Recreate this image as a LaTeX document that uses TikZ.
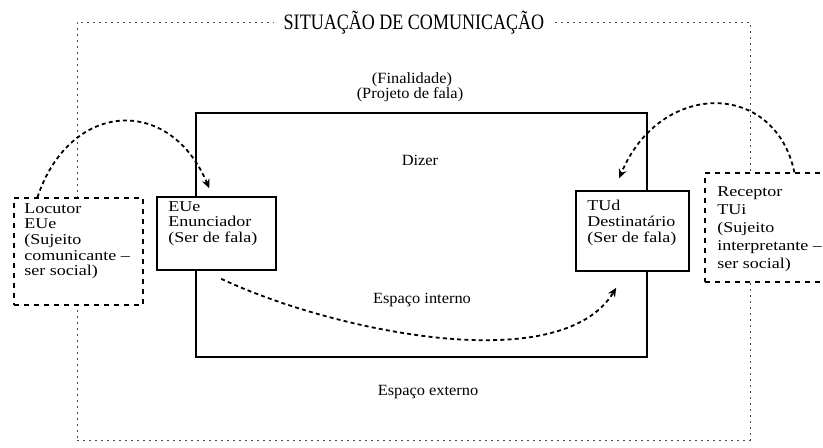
\documentclass[tikz,border=0pt]{standalone}
\usepackage{fontspec}
\setmainfont{Liberation Serif}[FakeStretch=1.2]
\newfontfamily\titlefont{Liberation Serif}[FakeStretch=0.82]
\newfontfamily\lblfont{Liberation Serif}[FakeStretch=1.05]
\usetikzlibrary{arrows.meta,calc,fit}
\tikzset{
  outerframe/.style={draw=black!70, line width=0.45pt, dash pattern=on 1.2pt off 1.8pt, inner sep=0pt},
  solidbox/.style={draw, line width=0.8pt, fill=white, inner sep=0pt},
  innerbox/.style={draw, line width=0.8pt, inner sep=0pt},
  dashbox/.style={draw, line width=0.6pt, dash pattern=on 2.5pt off 2.5pt, fill=white, inner sep=0pt},
  boxtxt/.style={font=\fontsize{7.5}{7.8}\selectfont, inner sep=0pt, align=left, anchor=north west},
  lbl/.style={font=\lblfont\fontsize{7.8}{8}\selectfont, inner sep=0pt},
  arcline/.style={line width=0.9pt, dash pattern=on 2pt off 1.6pt, -{Stealth[length=4.5pt,width=4pt]}},
}
\begin{document}
\begin{tikzpicture}[x=0.5pt,y=-0.5pt]
\useasboundingbox (0,0) rectangle (823,448);
% outer frame
\node[outerframe, fit={(77,22) (750,440)}] (outer) {};
\node[font=\titlefont\fontsize{11}{12}\selectfont, fill=white, inner xsep=5pt, inner ysep=1pt] (title) at (414,23) {SITUAÇÃO DE COMUNICAÇÃO};
\node[lbl] (fin) at (412,80) {(Finalidade)};
\node[lbl] (proj) at (410,95) {(Projeto de fala)};
% inner frame
\node[innerbox, fit={(196,113) (647,357)}] (inner) {};
\node[lbl] (dizer) at (420,160) {Dizer};
\node[lbl] (einterno) at (422,300) {Espaço interno};
\node[lbl] (eexterno) at (428,392) {Espaço externo};
% boxes
\node[solidbox, fit={(157,197) (276,270)}] (eue) {};
\node[boxtxt] (euetxt) at (168,201) {EUe\\Enunciador\\(Ser de fala)};
\node[solidbox, fit={(576,191) (689,271)}] (tud) {};
\node[boxtxt] (tudtxt) at (587,200) {TUd\\Destinatário\\(Ser de fala)};
\node[dashbox, fit={(14,198) (143,305)}] (loc) {};
\node[boxtxt] (loctxt) at (24,203) {Locutor\\EUe\\(Sujeito\\comunicante –\\ser social)};
\node[dashbox, fit={(705,173) (828,282)}] (rec) {};
\node[boxtxt, font=\fontsize{7.5}{9}\selectfont] (rectxt) at (717,186) {Receptor\\TUi\\(Sujeito\\interpretante –\\ser social)};
% arcs
\draw[arcline] ($(loc.north west)+(24,0)$) .. controls (70,100) and (170,95) .. ($(eue.north west)+(53,-8)$);
\draw[arcline] ($(rec.north west)+(90,0)$) .. controls (775,80) and (660,80) .. ($(tud.north west)+(44,-12)$);
\draw[arcline] ($(eue.south west)+(65,8)$) .. controls (330,330) and (560,380) .. ($(tud.south west)+(41,16)$);
\end{tikzpicture}
\end{document}
